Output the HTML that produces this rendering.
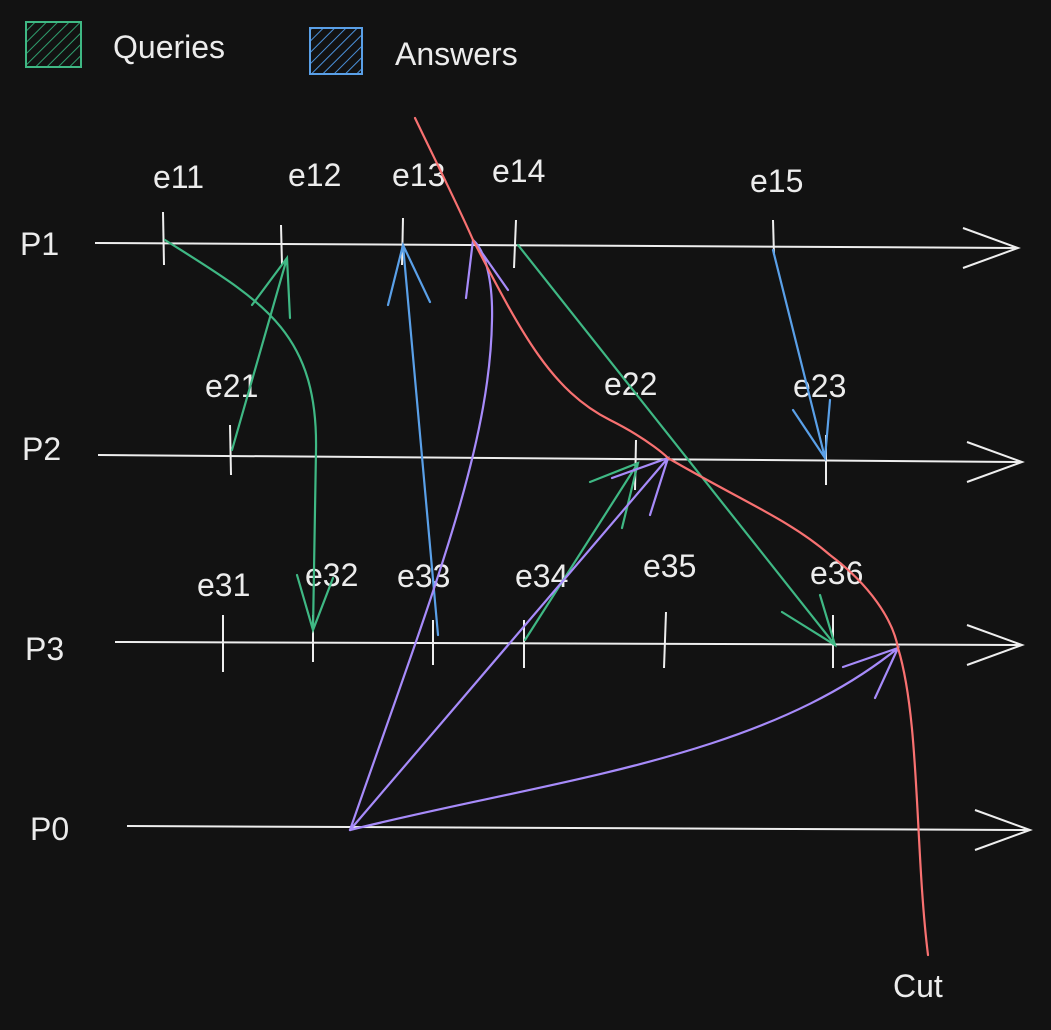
<!DOCTYPE html>
<html><head><meta charset="utf-8"><style>
html,body{margin:0;padding:0;background:#121212;}
svg{display:block;}
text{font-family:"Liberation Sans",sans-serif;fill:#ececec;font-size:32px;}
</style></head><body>
<svg width="1051" height="1030" viewBox="0 0 1051 1030">
<defs>
<pattern id="hg" width="8" height="8" patternUnits="userSpaceOnUse" patternTransform="rotate(45)"><line x1="0" y1="0" x2="0" y2="8" stroke="#2f9e6e" stroke-width="2"/></pattern>
<pattern id="hb" width="8" height="8" patternUnits="userSpaceOnUse" patternTransform="rotate(45)"><line x1="0" y1="0" x2="0" y2="8" stroke="#4a90d9" stroke-width="2"/></pattern>
</defs>
<rect width="1051" height="1030" fill="#121212"/>
<g>
<rect x="26" y="22" width="55" height="45" fill="url(#hg)" stroke="#3fb884" stroke-width="2"/>
<text x="113" y="58">Queries</text>
<rect x="310" y="28" width="52" height="46" fill="url(#hb)" stroke="#5aa0e8" stroke-width="2"/>
<text x="395" y="65">Answers</text>
</g>
<g stroke="#eeeeee" stroke-width="2" fill="none">
<path d="M95 243 L1018 248 M963 228 L1018 248 L963 268"/>
<path d="M98 455 L1022 462 M967 442 L1022 462 L967 482"/>
<path d="M115 642 L1022 645 M967 625 L1022 645 L967 665"/>
<path d="M127 826 L1030 830 M975 810 L1030 830 L975 850"/>
</g>
<g stroke="#eeeeee" stroke-width="2">
<line x1="163" y1="212" x2="164" y2="265"/><line x1="281" y1="225" x2="282" y2="265"/>
<line x1="403" y1="218" x2="402" y2="265"/><line x1="516" y1="220" x2="514" y2="268"/>
<line x1="773" y1="220" x2="774" y2="255"/>
<line x1="230" y1="425" x2="231" y2="475"/><line x1="636" y1="440" x2="635" y2="490"/>
<line x1="826" y1="435" x2="826" y2="485"/>
<line x1="223" y1="615" x2="223" y2="672"/><line x1="313" y1="615" x2="313" y2="662"/>
<line x1="433" y1="620" x2="433" y2="665"/><line x1="524" y1="620" x2="524" y2="668"/>
<line x1="666" y1="612" x2="664" y2="668"/><line x1="833" y1="615" x2="833" y2="668"/>
</g>
<g>
<text x="20" y="255">P1</text><text x="22" y="460">P2</text><text x="25" y="660">P3</text><text x="30" y="840">P0</text>
<text x="153" y="188">e11</text><text x="288" y="186">e12</text><text x="392" y="186">e13</text><text x="492" y="182">e14</text><text x="750" y="192">e15</text>
<text x="205" y="397">e21</text><text x="604" y="395">e22</text><text x="793" y="397">e23</text>
<text x="197" y="596">e31</text><text x="305" y="586">e32</text><text x="397" y="587">e33</text><text x="515" y="587">e34</text><text x="643" y="577">e35</text><text x="810" y="584">e36</text>
<text x="893" y="997">Cut</text>
</g>
<g fill="none" stroke-width="2.2" stroke-linecap="round">
<path d="M165 240 C260 300 318 330 316 450 L313 630 M297 575 L313 630 L333 578" stroke="#3fb884"/>
<path d="M232 450 L287 258 M252 305 L287 258 L290 318" stroke="#3fb884"/>
<path d="M438 635 L403 245 M388 305 L403 245 L430 302" stroke="#5aa0e8"/>
<path d="M518 245 L835 645 M782 612 L835 645 L820 595" stroke="#3fb884"/>
<path d="M773 250 L825 458 M793 410 L825 458 L830 400" stroke="#5aa0e8"/>
<path d="M525 640 L638 463 M590 482 L638 463 L622 528" stroke="#3fb884"/>
<path d="M350 830 C430 600 490 450 492 320 C493 280 485 250 473 240 M466 298 L473 240 L508 290" stroke="#a78bfa"/>
<path d="M350 830 L668 458 M612 478 L668 458 L650 515" stroke="#a78bfa"/>
<path d="M350 830 C550 780 760 760 898 648 M843 667 L898 648 L875 698" stroke="#a78bfa"/>
<path d="M415 118 C440 170 460 210 473 240 C520 330 550 390 610 420 C650 440 668 458 668 458 C740 500 790 520 830 555 C870 585 893 620 898 648 C920 720 915 850 928 955" stroke="#f87171"/>
</g>
</svg>
</body></html>
